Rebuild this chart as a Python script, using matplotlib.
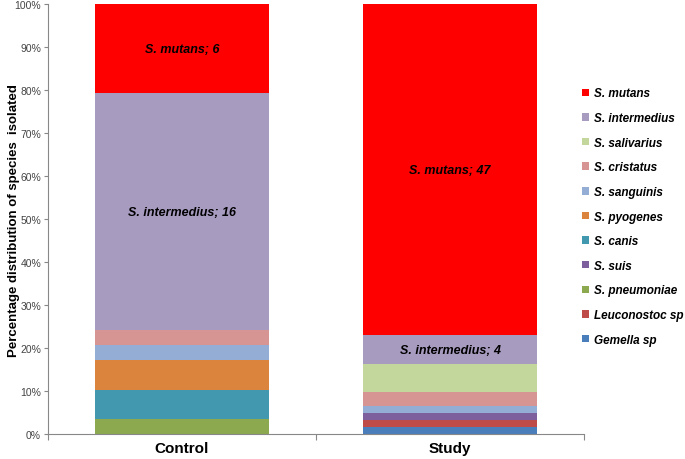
import numpy as np
import matplotlib
matplotlib.use("Agg")
import matplotlib.pyplot as plt
from matplotlib.ticker import PercentFormatter

plt.rcParams["font.family"] = ["Liberation Sans", "DejaVu Sans"]

groups = ["Control", "Study"]

# stacked bottom -> top; counts per group (Control, Study)
species = ["Gemella sp", "Leuconostoc sp", "S. pneumoniae", "S. suis", "S. canis",
           "S. pyogenes", "S. sanguinis", "S. cristatus", "S. salivarius",
           "S. intermedius", "S. mutans"]
counts = {
    "Gemella sp": [0, 1],
    "Leuconostoc sp": [0, 1],
    "S. pneumoniae": [1, 0],
    "S. suis": [0, 1],
    "S. canis": [2, 0],
    "S. pyogenes": [2, 0],
    "S. sanguinis": [1, 1],
    "S. cristatus": [1, 2],
    "S. salivarius": [0, 4],
    "S. intermedius": [16, 4],
    "S. mutans": [6, 47],
}
labelled = ["S. mutans", "S. intermedius"]

colors = {
    "Gemella sp": "#4A7EBB",
    "Leuconostoc sp": "#BE4B48",
    "S. pneumoniae": "#8DA94F",
    "S. suis": "#7D5F9E",
    "S. canis": "#4198AF",
    "S. pyogenes": "#DB843D",
    "S. sanguinis": "#93ADD4",
    "S. cristatus": "#D69593",
    "S. salivarius": "#C3D69B",
    "S. intermedius": "#A89BC0",
    "S. mutans": "#FF0000",
}

totals = np.sum([counts[s] for s in species], axis=0)

fig = plt.figure(figsize=(6.85, 4.6), dpi=100)
ax = fig.add_axes([0.070, 0.054, 0.783, 0.935])

x = np.arange(len(groups))
bottom = np.zeros(len(groups))
handles = {}
for sp in species:
    frac = np.array(counts[sp]) / totals
    bars = ax.bar(x, frac, 0.65, bottom=bottom, color=colors[sp],
                  linewidth=0, label=sp)
    handles[sp] = bars
    for i, f in enumerate(frac):
        if sp in labelled and f > 0:
            ax.text(x[i], bottom[i] + f / 2, f"{sp}; {counts[sp][i]}",
                    ha="center", va="center", fontsize=9,
                    fontweight="bold", fontstyle="italic", color="black")
    bottom += frac

ax.set_xlim(-0.5, 1.5)
ax.set_ylim(0, 1)
ax.yaxis.set_major_locator(plt.MultipleLocator(0.1))
ax.yaxis.set_major_formatter(PercentFormatter(1.0, decimals=0))
ax.tick_params(axis="y", labelsize=7.5, colors="#888888", labelcolor="#444444",
               length=3, width=0.8, pad=2)
ax.set_xticks(x)
ax.set_xticklabels(groups, fontsize=11, fontweight="bold")
ax.tick_params(axis="x", length=0, pad=5)
ax.set_xticks([-0.5, 0.5, 1.5], minor=True)
ax.tick_params(axis="x", which="minor", length=4, color="#888888", width=0.8)

for s in ["top", "right"]:
    ax.spines[s].set_visible(False)
for s in ["left", "bottom"]:
    ax.spines[s].set_color("#888888")
    ax.spines[s].set_linewidth(0.8)

ax.set_ylabel("Percentage distribution of species  isolated", fontsize=9.5,
              fontweight="bold")
ax.yaxis.set_label_coords(-0.052, 0.5)

order = species[::-1]
leg = fig.legend([handles[s] for s in order], order, loc="upper left",
                 bbox_to_anchor=(0.843, 0.818), frameon=False,
                 prop={"size": 8.5, "weight": "bold", "style": "italic"},
                 handlelength=0.6, handleheight=0.6, handletextpad=0.4,
                 labelspacing=1.07, borderaxespad=0)

fig.savefig("out.png", dpi=100)
